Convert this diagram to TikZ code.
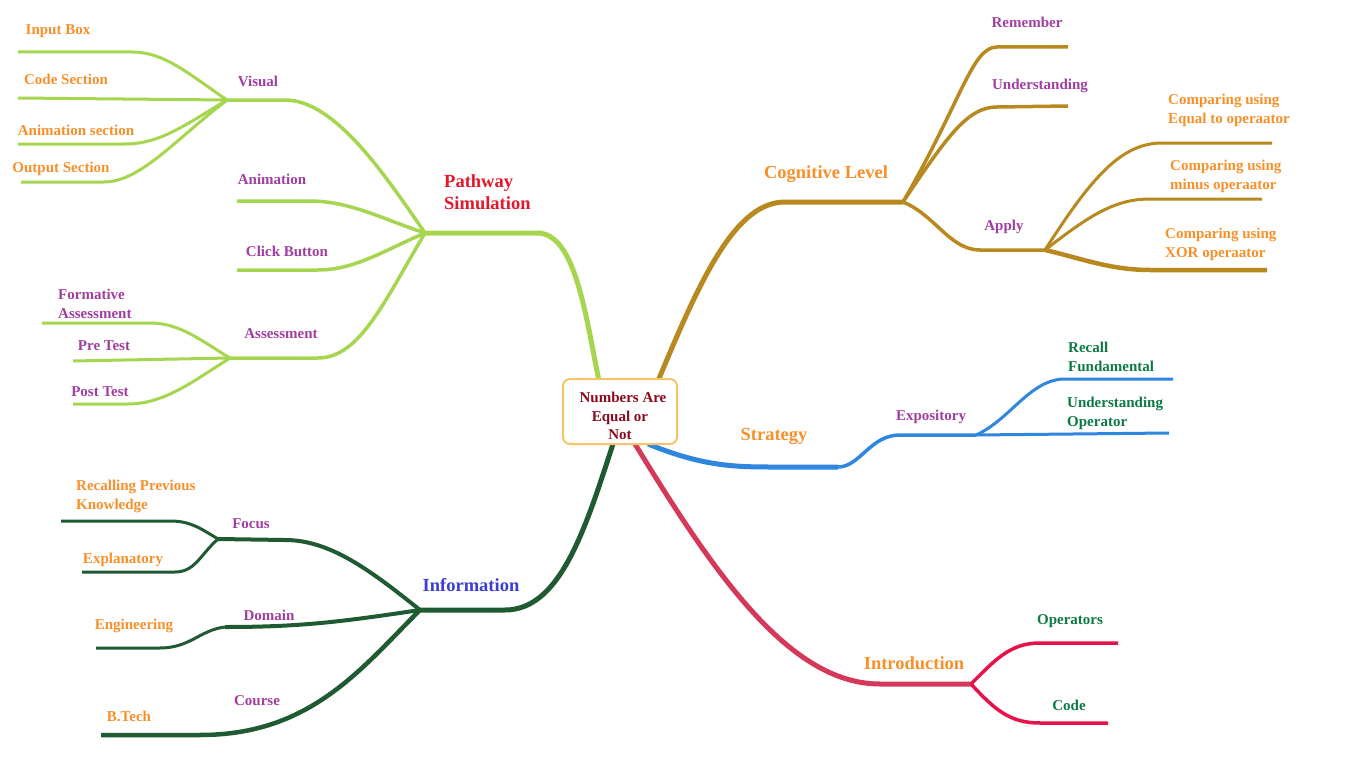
\documentclass[tikz,border=0pt]{standalone}
\usepackage{fontspec}
\setmainfont{Liberation Serif}
\definecolor{lgreen}{HTML}{A6D64F}
\definecolor{gold}{HTML}{B8891E}
\definecolor{sblue}{HTML}{2F86DE}
\definecolor{crim}{HTML}{D5395A}
\definecolor{crimsub}{HTML}{E8124A}
\definecolor{dgreen}{HTML}{1F5A32}
\definecolor{torange}{HTML}{F8902A}
\definecolor{tpurple}{HTML}{A03FA0}
\definecolor{tred}{HTML}{E6162A}
\definecolor{tdred}{HTML}{8B0A1E}
\definecolor{tgreen}{HTML}{0D7A46}
\definecolor{tblue}{HTML}{3C3FD4}
\definecolor{boxc}{HTML}{F8C468}
\begin{document}
\begin{tikzpicture}[x=1pt,y=-1pt,
  lbl/.style={font=\fontsize{15}{19}\selectfont\bfseries, inner sep=0pt, align=left},
  big/.style={font=\fontsize{18.5}{22}\selectfont\bfseries, inner sep=0pt, align=left},
  mainbr/.style={line width=5pt},
  subbr/.style={line width=3.5pt},
  leafbr/.style={line width=3pt}]
\fill[white] (0,0) rectangle (1366,768);
\useasboundingbox (0,0) rectangle (1366,768);

% ---------- coordinates ----------
\coordinate (pw0) at (599,381);
\coordinate (pwhub) at (425,233);
\coordinate (vhub) at (227,100);
\coordinate (animend) at (237,201);
\coordinate (clickend) at (237,270);
\coordinate (ahub) at (230,358);
\coordinate (ibend) at (18,52);
\coordinate (csend) at (18,98);
\coordinate (asend) at (18,144);
\coordinate (osend) at (21,182);
\coordinate (faend) at (42,323);
\coordinate (ptend) at (73,361);
\coordinate (postend) at (73,404);

\coordinate (cg0) at (658,381);
\coordinate (cghub) at (903,202);
\coordinate (remend) at (1068,47);
\coordinate (undend) at (1068,106);
\coordinate (aphub) at (1045,250);
\coordinate (eqend) at (1272,143);
\coordinate (minend) at (1262,199);
\coordinate (xorend) at (1267,270);

\coordinate (st0) at (648,444);
\coordinate (stmid) at (838,467);
\coordinate (sthub) at (976,435);
\coordinate (rfend) at (1173,379);
\coordinate (uoend) at (1169,433);

\coordinate (in0) at (635,444);
\coordinate (inhub) at (971,684);
\coordinate (opend) at (1118,643);
\coordinate (codeend) at (1108,723);

\coordinate (if0) at (613,444);
\coordinate (ifhub) at (420,610);
\coordinate (fohub) at (218,539);
\coordinate (rpend) at (61,521);
\coordinate (exend) at (82,572);
\coordinate (dohub) at (225,627);
\coordinate (enend) at (96,648);
\coordinate (btend) at (101,735);

% ---------- Pathway Simulation ----------
\begin{scope}[draw=lgreen]
\draw[mainbr] (pw0) .. controls (585,312) and (575,233) .. (537,233) -- (pwhub);
\draw[subbr] (pwhub) .. controls (385,175) and (335,100) .. (285,100) -- (vhub);
\draw[subbr] (pwhub) .. controls (385,220) and (350,201) .. (310,201) -- (animend);
\draw[subbr] (pwhub) .. controls (385,250) and (355,270) .. (318,270) -- (clickend);
\draw[subbr] (pwhub) .. controls (385,300) and (360,358) .. (318,358) -- (ahub);
\draw[leafbr] (vhub) .. controls (190,75) and (165,52) .. (132,52) -- (ibend);
\draw[leafbr] (vhub) -- (csend);
\draw[leafbr] (vhub) .. controls (185,125) and (160,144) .. (125,144) -- (asend);
\draw[leafbr] (vhub) .. controls (175,140) and (140,182) .. (104,182) -- (osend);
\draw[leafbr] (ahub) .. controls (200,340) and (180,323) .. (150,323) -- (faend);
\draw[leafbr] (ahub) -- (ptend);
\draw[leafbr] (ahub) .. controls (195,380) and (165,404) .. (128,404) -- (postend);
\end{scope}

% ---------- Cognitive Level ----------
\begin{scope}[draw=gold]
\draw[mainbr] (cg0) .. controls (700,280) and (735,202) .. (785,202) -- (cghub);
\draw[subbr] (cghub) .. controls (962,100) and (972,47) .. (997,47) -- (remend);
\draw[subbr] (cghub) .. controls (948,135) and (968,107) .. (997,107) -- (undend);
\draw[subbr] (cghub) .. controls (935,215) and (950,250) .. (980,250) -- (aphub);
\draw[leafbr] (aphub) .. controls (1090,180) and (1120,143) .. (1162,143) -- (eqend);
\draw[leafbr] (aphub) .. controls (1090,215) and (1115,199) .. (1150,199) -- (minend);
\draw[line width=4.5pt] (aphub) .. controls (1080,258) and (1110,270) .. (1150,270) -- (xorend);
\end{scope}

% ---------- Strategy ----------
\begin{scope}[draw=sblue]
\draw[mainbr] (st0) .. controls (700,465) and (730,467) .. (770,467) -- (stmid);
\draw[subbr] (stmid) .. controls (860,467) and (870,435) .. (900,435) -- (sthub);
\draw[leafbr] (sthub) .. controls (1010,420) and (1030,379) .. (1065,379) -- (rfend);
\draw[leafbr] (sthub) -- (uoend);
\end{scope}

% ---------- Introduction ----------
\draw[mainbr, draw=crim] (in0) .. controls (715,575) and (790,684) .. (880,684) -- (inhub);
\begin{scope}[draw=crimsub]
\draw[subbr] (inhub) .. controls (995,660) and (1010,643) .. (1040,643) -- (opend);
\draw[subbr] (inhub) .. controls (995,710) and (1010,723) .. (1040,723) -- (codeend);
\end{scope}

% ---------- Information ----------
\begin{scope}[draw=dgreen]
\draw[mainbr] (if0) .. controls (585,530) and (560,610) .. (505,610) -- (ifhub);
\draw[line width=4pt] (ifhub) .. controls (370,570) and (330,540) .. (285,540) -- (fohub);
\draw[leafbr] (fohub) .. controls (200,528) and (190,521) .. (170,521) -- (rpend);
\draw[leafbr] (fohub) .. controls (200,555) and (195,572) .. (175,572) -- (exend);
\draw[line width=4pt] (ifhub) .. controls (340,622) and (300,627) .. (dohub);
\draw[leafbr] (dohub) .. controls (200,630) and (190,648) .. (160,648) -- (enend);
\draw[line width=4.5pt] (ifhub) .. controls (360,670) and (310,735) .. (200,735) -- (btend);
\end{scope}

% ---------- root ----------
\node[draw=boxc, line width=2pt, rounded corners=7pt, fill=white,
      minimum width=114pt, minimum height=65pt, align=center, text=tdred,
      font=\fontsize{15}{18.5}\selectfont\bfseries, inner sep=0pt] (root) at (620,411.5)
      {\mbox{}\\[1.5pt]\hspace*{6pt}Numbers Are\\Equal or\\Not};

% ---------- labels ----------
\node[big, text=tred, anchor=west] (pwl) at (444,192) {Pathway\\Simulation};
\node[lbl, text=tpurple] (visl) at (258,81) {Visual};
\node[lbl, text=tpurple] (animl) at (272,179) {Animation};
\node[lbl, text=tpurple] (clickl) at (287,251) {Click Button};
\node[lbl, text=tpurple] (assl) at (281,334) {Assessment};
\node[lbl, text=torange] (ibl) at (58,31) {Input Box};
\node[lbl, text=torange] (csl) at (66,79) {Code Section};
\node[lbl, text=torange] (asl) at (76,130) {Animation section};
\node[lbl, text=torange] (osl) at (61,169) {Output Section};
\node[lbl, text=tpurple, anchor=west] (fal) at (58,303.5) {Formative\\Assessment};
\node[lbl, text=tpurple] (ptl) at (104,346) {Pre Test};
\node[lbl, text=tpurple] (postl) at (100,392) {Post Test};

\node[big, text=torange] (cgl) at (826,174) {Cognitive Level};
\node[lbl, text=tpurple] (reml) at (1027,22) {Remember};
\node[lbl, text=tpurple] (undl) at (1040,86) {Understanding};
\node[lbl, text=tpurple] (apl) at (1004,227) {Apply};
\node[lbl, text=torange, anchor=west] (eql) at (1168,110.5) {Comparing using\\Equal to operaator};
\node[lbl, text=torange, anchor=west] (minl) at (1170,176.5) {Comparing using\\minus operaator};
\node[lbl, text=torange, anchor=west] (xorl) at (1165,244.5) {Comparing using\\XOR operaator};

\node[big, text=torange] (stl) at (774,436) {Strategy};
\node[lbl, text=tpurple] (exl) at (931,417) {Expository};
\node[lbl, text=tgreen, anchor=west] (rfl) at (1068,356.5) {Recall\\Fundamental};
\node[lbl, text=tgreen, anchor=west] (uol) at (1067,413.5) {Understanding\\Operator};

\node[big, text=torange] (inl) at (914,663) {Introduction};
\node[lbl, text=tgreen] (opl) at (1070,621) {Operators};
\node[lbl, text=tgreen] (codel) at (1069,705) {Code};

\node[big, text=tblue] (ifl) at (471,585) {Information};
\node[lbl, text=tpurple] (fol) at (251,524) {Focus};
\node[lbl, text=torange, anchor=west] (rpl) at (76,496.5) {Recalling Previous\\Knowledge};
\node[lbl, text=torange] (exl2) at (123,560) {Explanatory};
\node[lbl, text=tpurple] (dol) at (269,615) {Domain};
\node[lbl, text=torange] (enl) at (134,626) {Engineering};
\node[lbl, text=tpurple] (col) at (257,701) {Course};
\node[lbl, text=torange] (btl) at (129,716) {B.Tech};
\end{tikzpicture}
\end{document}
